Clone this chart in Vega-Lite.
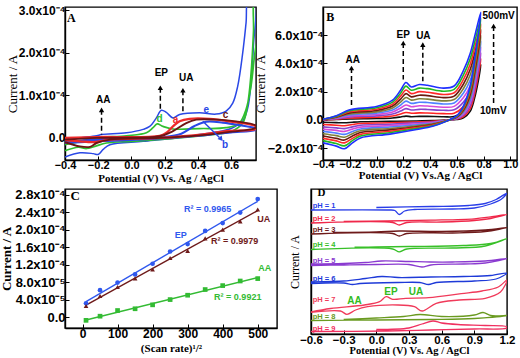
{
"$schema": "https://vega.github.io/schema/vega-lite/v6.json",
"padding": {"left": 0, "top": 3, "right": 0, "bottom": 0},
"background": "white",
"datasets": {
"A": [
{"s":"e","x":-0.4,"y":-0.05},{"s":"e","x":-0.31,"y":0.0},{"s":"e","x":-0.21,"y":0.05},{"s":"e","x":-0.18,"y":0.08},{"s":"e","x":-0.03,"y":0.12},{"s":"e","x":0.07,"y":0.2},{"s":"e","x":0.11,"y":0.27},{"s":"e","x":0.15,"y":0.47},{"s":"e","x":0.18,"y":0.65},{"s":"e","x":0.21,"y":0.6},{"s":"e","x":0.25,"y":0.47},{"s":"e","x":0.29,"y":0.55},{"s":"e","x":0.41,"y":0.59},{"s":"e","x":0.51,"y":0.56},{"s":"e","x":0.57,"y":0.63},{"s":"e","x":0.61,"y":0.82},{"s":"e","x":0.64,"y":1.22},{"s":"e","x":0.67,"y":2.0},{"s":"e","x":0.69,"y":2.7},{"s":"e","x":0.705,"y":3.3},{"s":"e","x":0.745,"y":3.3},{"s":"e","x":0.735,"y":2.2},{"s":"e","x":0.72,"y":1.3},{"s":"e","x":0.7,"y":0.7},{"s":"e","x":0.67,"y":0.4},{"s":"e","x":0.6,"y":0.22},{"s":"e","x":0.5,"y":0.13},{"s":"e","x":0.41,"y":0.08},{"s":"e","x":0.27,"y":0.0},{"s":"e","x":0.07,"y":-0.08},{"s":"e","x":-0.13,"y":-0.16},{"s":"e","x":-0.17,"y":-0.27},{"s":"e","x":-0.2,"y":-0.39},{"s":"e","x":-0.23,"y":-0.37},{"s":"e","x":-0.31,"y":-0.35},{"s":"e","x":-0.4,"y":-0.45},
{"s":"d","x":-0.4,"y":-0.16},{"s":"d","x":-0.31,"y":-0.08},{"s":"d","x":-0.21,"y":0.0},{"s":"d","x":-0.03,"y":0.05},{"s":"d","x":0.09,"y":0.12},{"s":"d","x":0.13,"y":0.24},{"s":"d","x":0.155,"y":0.33},{"s":"d","x":0.19,"y":0.27},{"s":"d","x":0.25,"y":0.21},{"s":"d","x":0.41,"y":0.22},{"s":"d","x":0.57,"y":0.24},{"s":"d","x":0.65,"y":0.35},{"s":"d","x":0.69,"y":0.67},{"s":"d","x":0.72,"y":1.22},{"s":"d","x":0.75,"y":2.16},{"s":"d","x":0.77,"y":2.4},{"s":"d","x":0.77,"y":3.3},{"s":"d","x":0.743,"y":3.3},{"s":"d","x":0.735,"y":2.5},{"s":"d","x":0.72,"y":1.5},{"s":"d","x":0.7,"y":0.8},{"s":"d","x":0.67,"y":0.35},{"s":"d","x":0.6,"y":0.15},{"s":"d","x":0.5,"y":0.08},{"s":"d","x":0.4,"y":0.04},{"s":"d","x":0.2,"y":-0.03},{"s":"d","x":0.0,"y":-0.08},{"s":"d","x":-0.15,"y":-0.12},{"s":"d","x":-0.22,"y":-0.2},{"s":"d","x":-0.27,"y":-0.25},{"s":"d","x":-0.32,"y":-0.22},{"s":"d","x":-0.4,"y":-0.3},
{"s":"b","x":-0.4,"y":-0.1},{"s":"b","x":-0.2,"y":-0.03},{"s":"b","x":0.0,"y":-0.02},{"s":"b","x":0.2,"y":0.02},{"s":"b","x":0.3,"y":0.1},{"s":"b","x":0.38,"y":0.28},{"s":"b","x":0.45,"y":0.38},{"s":"b","x":0.55,"y":0.36},{"s":"b","x":0.65,"y":0.3},{"s":"b","x":0.75,"y":0.22},{"s":"b","x":0.75,"y":0.19},{"s":"b","x":0.6,"y":0.13},{"s":"b","x":0.5,"y":0.09},{"s":"b","x":0.4,"y":0.05},{"s":"b","x":0.2,"y":-0.01},{"s":"b","x":0.0,"y":-0.05},{"s":"b","x":-0.2,"y":-0.08},{"s":"b","x":-0.4,"y":-0.12},
{"s":"a","x":-0.4,"y":0.0},{"s":"a","x":-0.21,"y":0.02},{"s":"a","x":0.17,"y":0.05},{"s":"a","x":0.21,"y":0.12},{"s":"a","x":0.25,"y":0.27},{"s":"a","x":0.29,"y":0.39},{"s":"a","x":0.35,"y":0.45},{"s":"a","x":0.47,"y":0.45},{"s":"a","x":0.59,"y":0.39},{"s":"a","x":0.75,"y":0.27},{"s":"a","x":0.75,"y":0.21},{"s":"a","x":0.57,"y":0.16},{"s":"a","x":0.43,"y":0.08},{"s":"a","x":0.17,"y":0.0},{"s":"a","x":-0.13,"y":-0.04},{"s":"a","x":-0.23,"y":-0.1},{"s":"a","x":-0.31,"y":-0.08},{"s":"a","x":-0.4,"y":-0.05},
{"s":"c","x":-0.4,"y":-0.04},{"s":"c","x":-0.21,"y":0.0},{"s":"c","x":0.17,"y":0.04},{"s":"c","x":0.25,"y":0.16},{"s":"c","x":0.33,"y":0.35},{"s":"c","x":0.39,"y":0.43},{"s":"c","x":0.51,"y":0.43},{"s":"c","x":0.63,"y":0.39},{"s":"c","x":0.75,"y":0.29},{"s":"c","x":0.75,"y":0.24},{"s":"c","x":0.57,"y":0.13},{"s":"c","x":0.41,"y":0.06},{"s":"c","x":0.17,"y":0.0},{"s":"c","x":-0.13,"y":-0.04},{"s":"c","x":-0.21,"y":-0.12},{"s":"c","x":-0.25,"y":-0.21},{"s":"c","x":-0.31,"y":-0.2},{"s":"c","x":-0.4,"y":-0.1}
],
"A_txt": [{"x":-0.17,"y":0.9,"t":"AA"},{"x":0.18,"y":1.53,"t":"EP"},{"x":0.33,"y":1.41,"t":"UA"}],
"A_let": [{"s":"e","x":0.45,"y":0.65,"t":"e"},{"s":"c","x":0.566,"y":0.53,"t":"c"},{"s":"d","x":0.17,"y":0.45,"t":"d"},{"s":"a","x":0.266,"y":0.42,"t":"a"},{"s":"b","x":0.564,"y":-0.16,"t":"b"}],
"A_pan": [{"x":-0.388,"y":2.82,"t":"A"}],
"A_arr": [{"x":-0.18,"y":0.66,"y2":0.08},{"x":0.174,"y":1.18,"y2":0.68},{"x":0.31,"y":1.12,"y2":0.59}],
"A_b": [{"x":0.43,"y":0.39,"x2":0.53,"y2":0.01}],
"A_bh": [{"x":0.54,"y":-0.03}],
"B": [
{"s":"k1","x":-0.4,"y":0.01},{"s":"k1","x":-0.3,"y":0.03},{"s":"k1","x":-0.2,"y":0.07},{"s":"k1","x":0.0,"y":0.1},{"s":"k1","x":0.12,"y":0.14},{"s":"k1","x":0.18,"y":0.21},{"s":"k1","x":0.22,"y":0.27},{"s":"k1","x":0.26,"y":0.23},{"s":"k1","x":0.32,"y":0.25},{"s":"k1","x":0.38,"y":0.25},{"s":"k1","x":0.5,"y":0.23},{"s":"k1","x":0.58,"y":0.24},{"s":"k1","x":0.65,"y":0.62},{"s":"k1","x":0.7,"y":1.28},{"s":"k1","x":0.74,"y":2.42},{"s":"k1","x":0.78,"y":3.91},{"s":"k1","x":0.74,"y":1.82},{"s":"k1","x":0.7,"y":0.6},{"s":"k1","x":0.65,"y":0.15},{"s":"k1","x":0.6,"y":0.03},{"s":"k1","x":0.52,"y":-0.01},{"s":"k1","x":0.42,"y":-0.05},{"s":"k1","x":0.3,"y":-0.07},{"s":"k1","x":0.1,"y":-0.1},{"s":"k1","x":-0.12,"y":-0.13},{"s":"k1","x":-0.18,"y":-0.16},{"s":"k1","x":-0.24,"y":-0.2},{"s":"k1","x":-0.3,"y":-0.19},{"s":"k1","x":-0.4,"y":-0.16},
{"s":"k2","x":-0.4,"y":0.01},{"s":"k2","x":-0.3,"y":0.06},{"s":"k2","x":-0.2,"y":0.14},{"s":"k2","x":0.0,"y":0.19},{"s":"k2","x":0.12,"y":0.28},{"s":"k2","x":0.18,"y":0.42},{"s":"k2","x":0.22,"y":0.53},{"s":"k2","x":0.26,"y":0.47},{"s":"k2","x":0.32,"y":0.5},{"s":"k2","x":0.38,"y":0.49},{"s":"k2","x":0.5,"y":0.45},{"s":"k2","x":0.58,"y":0.48},{"s":"k2","x":0.65,"y":0.94},{"s":"k2","x":0.7,"y":1.66},{"s":"k2","x":0.74,"y":2.83},{"s":"k2","x":0.78,"y":4.32},{"s":"k2","x":0.74,"y":2.14},{"s":"k2","x":0.7,"y":0.8},{"s":"k2","x":0.65,"y":0.24},{"s":"k2","x":0.6,"y":0.06},{"s":"k2","x":0.52,"y":-0.02},{"s":"k2","x":0.42,"y":-0.09},{"s":"k2","x":0.3,"y":-0.14},{"s":"k2","x":0.1,"y":-0.2},{"s":"k2","x":-0.12,"y":-0.25},{"s":"k2","x":-0.18,"y":-0.32},{"s":"k2","x":-0.24,"y":-0.41},{"s":"k2","x":-0.3,"y":-0.37},{"s":"k2","x":-0.4,"y":-0.32},
{"s":"k3","x":-0.4,"y":0.02},{"s":"k3","x":-0.3,"y":0.09},{"s":"k3","x":-0.2,"y":0.22},{"s":"k3","x":0.0,"y":0.29},{"s":"k3","x":0.12,"y":0.42},{"s":"k3","x":0.18,"y":0.63},{"s":"k3","x":0.22,"y":0.8},{"s":"k3","x":0.26,"y":0.7},{"s":"k3","x":0.32,"y":0.75},{"s":"k3","x":0.38,"y":0.74},{"s":"k3","x":0.5,"y":0.68},{"s":"k3","x":0.58,"y":0.72},{"s":"k3","x":0.65,"y":1.26},{"s":"k3","x":0.7,"y":2.04},{"s":"k3","x":0.74,"y":3.25},{"s":"k3","x":0.78,"y":4.73},{"s":"k3","x":0.74,"y":2.46},{"s":"k3","x":0.7,"y":1.0},{"s":"k3","x":0.65,"y":0.34},{"s":"k3","x":0.6,"y":0.09},{"s":"k3","x":0.52,"y":-0.03},{"s":"k3","x":0.42,"y":-0.14},{"s":"k3","x":0.3,"y":-0.2},{"s":"k3","x":0.1,"y":-0.3},{"s":"k3","x":-0.12,"y":-0.38},{"s":"k3","x":-0.18,"y":-0.49},{"s":"k3","x":-0.24,"y":-0.61},{"s":"k3","x":-0.3,"y":-0.56},{"s":"k3","x":-0.4,"y":-0.49},
{"s":"k4","x":-0.4,"y":0.02},{"s":"k4","x":-0.3,"y":0.12},{"s":"k4","x":-0.2,"y":0.29},{"s":"k4","x":0.0,"y":0.38},{"s":"k4","x":0.12,"y":0.56},{"s":"k4","x":0.18,"y":0.84},{"s":"k4","x":0.22,"y":1.06},{"s":"k4","x":0.26,"y":0.93},{"s":"k4","x":0.32,"y":1.0},{"s":"k4","x":0.38,"y":0.98},{"s":"k4","x":0.5,"y":0.9},{"s":"k4","x":0.58,"y":0.96},{"s":"k4","x":0.65,"y":1.58},{"s":"k4","x":0.7,"y":2.42},{"s":"k4","x":0.74,"y":3.66},{"s":"k4","x":0.78,"y":5.14},{"s":"k4","x":0.74,"y":2.78},{"s":"k4","x":0.7,"y":1.2},{"s":"k4","x":0.65,"y":0.43},{"s":"k4","x":0.6,"y":0.12},{"s":"k4","x":0.52,"y":-0.04},{"s":"k4","x":0.42,"y":-0.18},{"s":"k4","x":0.3,"y":-0.27},{"s":"k4","x":0.1,"y":-0.4},{"s":"k4","x":-0.12,"y":-0.51},{"s":"k4","x":-0.18,"y":-0.65},{"s":"k4","x":-0.24,"y":-0.81},{"s":"k4","x":-0.3,"y":-0.74},{"s":"k4","x":-0.4,"y":-0.65},
{"s":"k5","x":-0.4,"y":0.03},{"s":"k5","x":-0.3,"y":0.15},{"s":"k5","x":-0.2,"y":0.36},{"s":"k5","x":0.0,"y":0.48},{"s":"k5","x":0.12,"y":0.7},{"s":"k5","x":0.18,"y":1.05},{"s":"k5","x":0.22,"y":1.33},{"s":"k5","x":0.26,"y":1.17},{"s":"k5","x":0.32,"y":1.25},{"s":"k5","x":0.38,"y":1.23},{"s":"k5","x":0.5,"y":1.13},{"s":"k5","x":0.58,"y":1.2},{"s":"k5","x":0.65,"y":1.9},{"s":"k5","x":0.7,"y":2.8},{"s":"k5","x":0.74,"y":4.08},{"s":"k5","x":0.78,"y":5.55},{"s":"k5","x":0.74,"y":3.1},{"s":"k5","x":0.7,"y":1.4},{"s":"k5","x":0.65,"y":0.53},{"s":"k5","x":0.6,"y":0.15},{"s":"k5","x":0.52,"y":-0.05},{"s":"k5","x":0.42,"y":-0.23},{"s":"k5","x":0.3,"y":-0.34},{"s":"k5","x":0.1,"y":-0.5},{"s":"k5","x":-0.12,"y":-0.64},{"s":"k5","x":-0.18,"y":-0.81},{"s":"k5","x":-0.24,"y":-1.02},{"s":"k5","x":-0.3,"y":-0.93},{"s":"k5","x":-0.4,"y":-0.81},
{"s":"k6","x":-0.4,"y":0.03},{"s":"k6","x":-0.3,"y":0.18},{"s":"k6","x":-0.2,"y":0.43},{"s":"k6","x":0.0,"y":0.57},{"s":"k6","x":0.12,"y":0.84},{"s":"k6","x":0.18,"y":1.26},{"s":"k6","x":0.22,"y":1.59},{"s":"k6","x":0.26,"y":1.4},{"s":"k6","x":0.32,"y":1.5},{"s":"k6","x":0.38,"y":1.47},{"s":"k6","x":0.5,"y":1.35},{"s":"k6","x":0.58,"y":1.44},{"s":"k6","x":0.65,"y":2.22},{"s":"k6","x":0.7,"y":3.18},{"s":"k6","x":0.74,"y":4.49},{"s":"k6","x":0.78,"y":5.96},{"s":"k6","x":0.74,"y":3.42},{"s":"k6","x":0.7,"y":1.6},{"s":"k6","x":0.65,"y":0.62},{"s":"k6","x":0.6,"y":0.18},{"s":"k6","x":0.52,"y":-0.06},{"s":"k6","x":0.42,"y":-0.27},{"s":"k6","x":0.3,"y":-0.41},{"s":"k6","x":0.1,"y":-0.6},{"s":"k6","x":-0.12,"y":-0.76},{"s":"k6","x":-0.18,"y":-0.97},{"s":"k6","x":-0.24,"y":-1.22},{"s":"k6","x":-0.3,"y":-1.11},{"s":"k6","x":-0.4,"y":-0.97},
{"s":"k7","x":-0.4,"y":0.04},{"s":"k7","x":-0.3,"y":0.21},{"s":"k7","x":-0.2,"y":0.5},{"s":"k7","x":0.0,"y":0.67},{"s":"k7","x":0.12,"y":0.98},{"s":"k7","x":0.18,"y":1.47},{"s":"k7","x":0.22,"y":1.86},{"s":"k7","x":0.26,"y":1.63},{"s":"k7","x":0.32,"y":1.75},{"s":"k7","x":0.38,"y":1.72},{"s":"k7","x":0.5,"y":1.58},{"s":"k7","x":0.58,"y":1.68},{"s":"k7","x":0.65,"y":2.54},{"s":"k7","x":0.7,"y":3.56},{"s":"k7","x":0.74,"y":4.91},{"s":"k7","x":0.78,"y":6.37},{"s":"k7","x":0.74,"y":3.74},{"s":"k7","x":0.7,"y":1.8},{"s":"k7","x":0.65,"y":0.72},{"s":"k7","x":0.6,"y":0.21},{"s":"k7","x":0.52,"y":-0.07},{"s":"k7","x":0.42,"y":-0.32},{"s":"k7","x":0.3,"y":-0.48},{"s":"k7","x":0.1,"y":-0.7},{"s":"k7","x":-0.12,"y":-0.89},{"s":"k7","x":-0.18,"y":-1.13},{"s":"k7","x":-0.24,"y":-1.42},{"s":"k7","x":-0.3,"y":-1.3},{"s":"k7","x":-0.4,"y":-1.13},
{"s":"k8","x":-0.4,"y":0.04},{"s":"k8","x":-0.3,"y":0.24},{"s":"k8","x":-0.2,"y":0.58},{"s":"k8","x":0.0,"y":0.76},{"s":"k8","x":0.12,"y":1.12},{"s":"k8","x":0.18,"y":1.68},{"s":"k8","x":0.22,"y":2.12},{"s":"k8","x":0.26,"y":1.86},{"s":"k8","x":0.32,"y":2.0},{"s":"k8","x":0.38,"y":1.96},{"s":"k8","x":0.5,"y":1.8},{"s":"k8","x":0.58,"y":1.92},{"s":"k8","x":0.65,"y":2.86},{"s":"k8","x":0.7,"y":3.94},{"s":"k8","x":0.74,"y":5.32},{"s":"k8","x":0.78,"y":6.78},{"s":"k8","x":0.74,"y":4.06},{"s":"k8","x":0.7,"y":2.0},{"s":"k8","x":0.65,"y":0.81},{"s":"k8","x":0.6,"y":0.24},{"s":"k8","x":0.52,"y":-0.08},{"s":"k8","x":0.42,"y":-0.36},{"s":"k8","x":0.3,"y":-0.54},{"s":"k8","x":0.1,"y":-0.8},{"s":"k8","x":-0.12,"y":-1.02},{"s":"k8","x":-0.18,"y":-1.3},{"s":"k8","x":-0.24,"y":-1.62},{"s":"k8","x":-0.3,"y":-1.48},{"s":"k8","x":-0.4,"y":-1.3},
{"s":"k9","x":-0.4,"y":0.05},{"s":"k9","x":-0.3,"y":0.27},{"s":"k9","x":-0.2,"y":0.65},{"s":"k9","x":0.0,"y":0.86},{"s":"k9","x":0.12,"y":1.26},{"s":"k9","x":0.18,"y":1.89},{"s":"k9","x":0.22,"y":2.39},{"s":"k9","x":0.26,"y":2.1},{"s":"k9","x":0.32,"y":2.25},{"s":"k9","x":0.38,"y":2.21},{"s":"k9","x":0.5,"y":2.03},{"s":"k9","x":0.58,"y":2.16},{"s":"k9","x":0.65,"y":3.18},{"s":"k9","x":0.7,"y":4.32},{"s":"k9","x":0.74,"y":5.74},{"s":"k9","x":0.78,"y":7.19},{"s":"k9","x":0.74,"y":4.38},{"s":"k9","x":0.7,"y":2.2},{"s":"k9","x":0.65,"y":0.91},{"s":"k9","x":0.6,"y":0.27},{"s":"k9","x":0.52,"y":-0.09},{"s":"k9","x":0.42,"y":-0.41},{"s":"k9","x":0.3,"y":-0.61},{"s":"k9","x":0.1,"y":-0.9},{"s":"k9","x":-0.12,"y":-1.14},{"s":"k9","x":-0.18,"y":-1.46},{"s":"k9","x":-0.24,"y":-1.83},{"s":"k9","x":-0.3,"y":-1.67},{"s":"k9","x":-0.4,"y":-1.46},
{"s":"k10","x":-0.4,"y":0.05},{"s":"k10","x":-0.3,"y":0.3},{"s":"k10","x":-0.2,"y":0.72},{"s":"k10","x":0.0,"y":0.95},{"s":"k10","x":0.12,"y":1.4},{"s":"k10","x":0.18,"y":2.1},{"s":"k10","x":0.22,"y":2.65},{"s":"k10","x":0.26,"y":2.33},{"s":"k10","x":0.32,"y":2.5},{"s":"k10","x":0.38,"y":2.45},{"s":"k10","x":0.5,"y":2.25},{"s":"k10","x":0.58,"y":2.4},{"s":"k10","x":0.65,"y":3.5},{"s":"k10","x":0.7,"y":4.7},{"s":"k10","x":0.74,"y":6.15},{"s":"k10","x":0.78,"y":7.6},{"s":"k10","x":0.74,"y":4.7},{"s":"k10","x":0.7,"y":2.4},{"s":"k10","x":0.65,"y":1.0},{"s":"k10","x":0.6,"y":0.3},{"s":"k10","x":0.52,"y":-0.1},{"s":"k10","x":0.42,"y":-0.45},{"s":"k10","x":0.3,"y":-0.68},{"s":"k10","x":0.1,"y":-1.0},{"s":"k10","x":-0.12,"y":-1.27},{"s":"k10","x":-0.18,"y":-1.62},{"s":"k10","x":-0.24,"y":-2.03},{"s":"k10","x":-0.3,"y":-1.85},{"s":"k10","x":-0.4,"y":-1.62}
],
"B_txt": [{"x":-0.177,"y":4.24,"t":"AA"},{"x":0.2,"y":6.03,"t":"EP"},{"x":0.35,"y":5.91,"t":"UA"},{"x":0.913,"y":7.33,"t":"500mV"},{"x":0.873,"y":0.64,"t":"10mV"}],
"B_pan": [{"x":-0.375,"y":7.3,"t":"B"}],
"B_arr": [{"x":-0.187,"y":3.67,"y2":0.99},{"x":0.2,"y":5.44,"y2":2.85},{"x":0.346,"y":5.32,"y2":2.73},{"x":0.875,"y":6.64,"y2":1.2}],
"C": [
{"s":"EP","x":10,"y":0.315},{"s":"EP","x":50,"y":0.615},{"s":"EP","x":100,"y":0.79},{"s":"EP","x":150,"y":0.975},{"s":"EP","x":200,"y":1.22},{"s":"EP","x":250,"y":1.5},{"s":"EP","x":300,"y":1.67},{"s":"EP","x":350,"y":1.97},{"s":"EP","x":400,"y":2.15},{"s":"EP","x":450,"y":2.39},{"s":"EP","x":500,"y":2.7},
{"s":"UA","x":10,"y":0.255},{"s":"UA","x":50,"y":0.48},{"s":"UA","x":100,"y":0.69},{"s":"UA","x":150,"y":0.885},{"s":"UA","x":200,"y":1.09},{"s":"UA","x":250,"y":1.35},{"s":"UA","x":300,"y":1.515},{"s":"UA","x":350,"y":1.8},{"s":"UA","x":400,"y":2.0},{"s":"UA","x":450,"y":2.19},{"s":"UA","x":500,"y":2.46},
{"s":"AA","x":10,"y":-0.075},{"s":"AA","x":50,"y":0.02},{"s":"AA","x":100,"y":0.15},{"s":"AA","x":150,"y":0.19},{"s":"AA","x":200,"y":0.28},{"s":"AA","x":250,"y":0.4},{"s":"AA","x":300,"y":0.5},{"s":"AA","x":350,"y":0.63},{"s":"AA","x":400,"y":0.72},{"s":"AA","x":450,"y":0.825},{"s":"AA","x":500,"y":0.88}
],
"C_txt": [{"s":"EP","x":357,"y":2.48,"t":"R² = 0.9965"},{"s":"EP","x":280,"y":1.875,"t":"EP"},{"s":"UA","x":517,"y":2.25,"t":"UA"},{"s":"UA","x":434,"y":1.74,"t":"R² = 0.9979"},{"s":"AA","x":520,"y":1.13,"t":"AA"},{"s":"AA","x":443,"y":0.46,"t":"R² = 0.9921"}],
"C_pan": [{"x":-34,"y":2.76,"t":"C"}],
"D": [
{"s":"pH1","x":-0.6,"y":12.4},{"s":"pH1","x":0.1,"y":12.4},{"s":"pH1","x":0.17,"y":12.35},{"s":"pH1","x":0.21,"y":11.95},{"s":"pH1","x":0.26,"y":12.3},{"s":"pH1","x":0.35,"y":12.45},{"s":"pH1","x":0.7,"y":12.5},{"s":"pH1","x":0.9,"y":12.6},{"s":"pH1","x":1.05,"y":13.0},{"s":"pH1","x":1.15,"y":13.5},{"s":"pH1","x":1.2,"y":14.1},{"s":"pH1","x":1.1,"y":13.45},{"s":"pH1","x":1.0,"y":13.05},{"s":"pH1","x":0.85,"y":12.85},{"s":"pH1","x":0.5,"y":12.75},{"s":"pH1","x":0.0,"y":12.65},
{"s":"pH2","x":-0.6,"y":11.1},{"s":"pH2","x":0.15,"y":11.15},{"s":"pH2","x":0.21,"y":10.9},{"s":"pH2","x":0.28,"y":11.15},{"s":"pH2","x":0.6,"y":11.2},{"s":"pH2","x":0.9,"y":11.35},{"s":"pH2","x":1.05,"y":11.55},{"s":"pH2","x":1.2,"y":11.95},{"s":"pH2","x":1.05,"y":11.72},{"s":"pH2","x":0.9,"y":11.52},{"s":"pH2","x":0.5,"y":11.38},{"s":"pH2","x":0.1,"y":11.3},{"s":"pH2","x":-0.3,"y":11.25},
{"s":"pH3","x":-0.6,"y":10.0},{"s":"pH3","x":0.15,"y":10.05},{"s":"pH3","x":0.21,"y":9.8},{"s":"pH3","x":0.28,"y":10.05},{"s":"pH3","x":0.7,"y":10.1},{"s":"pH3","x":1.0,"y":10.25},{"s":"pH3","x":1.2,"y":10.65},{"s":"pH3","x":1.0,"y":10.4},{"s":"pH3","x":0.6,"y":10.25},{"s":"pH3","x":0.21,"y":10.3},{"s":"pH3","x":0.0,"y":10.2},{"s":"pH3","x":-0.4,"y":10.15},
{"s":"pH4","x":-0.6,"y":8.45},{"s":"pH4","x":0.15,"y":8.5},{"s":"pH4","x":0.21,"y":8.22},{"s":"pH4","x":0.28,"y":8.5},{"s":"pH4","x":0.7,"y":8.6},{"s":"pH4","x":1.0,"y":8.8},{"s":"pH4","x":1.2,"y":9.55},{"s":"pH4","x":1.05,"y":9.05},{"s":"pH4","x":0.8,"y":8.85},{"s":"pH4","x":0.3,"y":8.75},{"s":"pH4","x":0.0,"y":8.7},{"s":"pH4","x":-0.2,"y":8.68},
{"s":"pH5","x":-0.6,"y":6.85},{"s":"pH5","x":-0.3,"y":6.9},{"s":"pH5","x":0.0,"y":6.95},{"s":"pH5","x":0.3,"y":6.95},{"s":"pH5","x":0.42,"y":6.7},{"s":"pH5","x":0.5,"y":6.9},{"s":"pH5","x":0.8,"y":7.0},{"s":"pH5","x":1.0,"y":7.1},{"s":"pH5","x":1.2,"y":7.55},{"s":"pH5","x":1.0,"y":7.3},{"s":"pH5","x":0.7,"y":7.2},{"s":"pH5","x":0.5,"y":7.2},{"s":"pH5","x":0.3,"y":7.25},{"s":"pH5","x":0.05,"y":7.3},{"s":"pH5","x":-0.1,"y":7.15},{"s":"pH5","x":-0.3,"y":7.05},{"s":"pH5","x":-0.6,"y":7.0},
{"s":"pH6","x":-0.6,"y":5.05},{"s":"pH6","x":-0.3,"y":5.1},{"s":"pH6","x":-0.22,"y":4.95},{"s":"pH6","x":-0.15,"y":5.05},{"s":"pH6","x":0.2,"y":5.15},{"s":"pH6","x":0.4,"y":5.15},{"s":"pH6","x":0.48,"y":4.95},{"s":"pH6","x":0.55,"y":5.15},{"s":"pH6","x":0.9,"y":5.3},{"s":"pH6","x":1.1,"y":5.5},{"s":"pH6","x":1.2,"y":6.1},{"s":"pH6","x":1.05,"y":5.85},{"s":"pH6","x":0.8,"y":5.75},{"s":"pH6","x":0.5,"y":5.7},{"s":"pH6","x":0.2,"y":5.65},{"s":"pH6","x":0.05,"y":5.75},{"s":"pH6","x":-0.1,"y":5.55},{"s":"pH6","x":-0.3,"y":5.3},{"s":"pH6","x":-0.6,"y":5.2},
{"s":"pH7","x":-0.6,"y":2.2},{"s":"pH7","x":-0.42,"y":2.55},{"s":"pH7","x":-0.11,"y":2.9},{"s":"pH7","x":0.03,"y":3.23},{"s":"pH7","x":0.09,"y":3.73},{"s":"pH7","x":0.15,"y":3.47},{"s":"pH7","x":0.27,"y":3.57},{"s":"pH7","x":0.48,"y":3.63},{"s":"pH7","x":0.78,"y":4.03},{"s":"pH7","x":0.97,"y":4.3},{"s":"pH7","x":1.12,"y":4.7},{"s":"pH7","x":1.2,"y":5.4},{"s":"pH7","x":1.14,"y":4.2},{"s":"pH7","x":1.0,"y":3.57},{"s":"pH7","x":0.76,"y":3.4},{"s":"pH7","x":0.55,"y":3.07},{"s":"pH7","x":0.42,"y":2.3},{"s":"pH7","x":0.35,"y":2.73},{"s":"pH7","x":0.2,"y":2.9},{"s":"pH7","x":-0.08,"y":2.73},{"s":"pH7","x":-0.19,"y":2.4},{"s":"pH7","x":-0.27,"y":1.97},{"s":"pH7","x":-0.33,"y":2.3},{"s":"pH7","x":-0.6,"y":2.17},
{"s":"pH8","x":-0.6,"y":1.35},{"s":"pH8","x":0.0,"y":1.4},{"s":"pH8","x":0.5,"y":1.45},{"s":"pH8","x":0.9,"y":1.55},{"s":"pH8","x":1.2,"y":1.85},{"s":"pH8","x":1.05,"y":1.85},{"s":"pH8","x":0.98,"y":2.15},{"s":"pH8","x":0.9,"y":1.9},{"s":"pH8","x":0.6,"y":1.75},{"s":"pH8","x":0.4,"y":1.95},{"s":"pH8","x":0.25,"y":1.75},{"s":"pH8","x":0.0,"y":1.6},{"s":"pH8","x":-0.3,"y":1.45},
{"s":"pH9","x":-0.6,"y":0.25},{"s":"pH9","x":0.1,"y":0.3},{"s":"pH9","x":0.5,"y":0.4},{"s":"pH9","x":0.9,"y":0.5},{"s":"pH9","x":1.2,"y":0.6},{"s":"pH9","x":1.2,"y":0.72},{"s":"pH9","x":1.0,"y":0.85},{"s":"pH9","x":0.75,"y":0.95},{"s":"pH9","x":0.6,"y":1.1},{"s":"pH9","x":0.52,"y":1.3},{"s":"pH9","x":0.42,"y":1.0},{"s":"pH9","x":0.3,"y":0.6},{"s":"pH9","x":0.0,"y":0.45}
],
"D_lab": [{"s":"pH1","x":-0.585,"y":12.83,"t":"pH = 1"},{"s":"pH2","x":-0.585,"y":11.5,"t":"pH = 2"},{"s":"pH3","x":-0.585,"y":10.4,"t":"pH = 3"},{"s":"pH4","x":-0.585,"y":8.9,"t":"pH = 4"},{"s":"pH5","x":-0.585,"y":7.3,"t":"pH = 5"},{"s":"pH6","x":-0.585,"y":5.47,"t":"pH = 6"},{"s":"pH7","x":-0.585,"y":3.4,"t":"pH = 7"},{"s":"pH8","x":-0.585,"y":1.73,"t":"pH = 8"},{"s":"pH9","x":-0.585,"y":0.5,"t":"pH = 9"}],
"D_txt": [{"x":-0.2,"y":3.3,"t":"AA"},{"x":0.135,"y":4.23,"t":"EP"},{"x":0.364,"y":4.23,"t":"UA"}],
"D_pan": [{"x":-0.54,"y":14.1,"t":"D"}]
},
"vconcat": [
{"hconcat": [
{"width": 191, "height": 153,
 "layer": [
  {"data": {"name": "A"}, "mark": {"type": "line", "clip": true, "interpolate": "catmull-rom"},
   "encoding": {
    "x": {"field": "x", "type": "quantitative", "scale": {"domain": [-0.4, 0.75], "nice": false, "zero": false}, "axis": {"title": "Potential (V) Vs. Ag / AgCl", "values": [-0.4, -0.2, 0, 0.2, 0.4, 0.6], "tickCount": 30, "format": ".1f", "labelPadding": 3, "titlePadding": 2, "labelOverlap": false, "labelFlush": false}},
    "y": {"field": "y", "type": "quantitative", "scale": {"domain": [-0.52, 3.08], "nice": false, "zero": false}, "axis": {"title": "Current / A", "values": [0, 1, 2, 3], "tickCount": 30, "labelExpr": "datum.value == 0 ? '0.0' : format(datum.value, '.1f') + 'x10⁻⁴'", "labelFontSize": 12, "titleFontWeight": "normal", "titleFontSize": 13, "titlePadding": -1, "labelOverlap": false, "labelFlush": false}},
    "color": {"field": "s", "type": "nominal", "scale": {"domain": ["a", "b", "c", "d", "e"], "range": ["#ee2a2a", "#2a48e6", "#6e1414", "#2fbf2f", "#2a48e6"]}, "legend": null},
    "strokeWidth": {"field": "s", "type": "nominal", "scale": {"domain": ["a", "b", "c", "d", "e"], "range": [2.3, 1.5, 2.3, 1.5, 1.6]}, "legend": null},
    "order": {"value": null}}},
  {"data": {"name": "A_arr"}, "mark": {"type": "rule", "strokeDash": [5, 3], "strokeWidth": 1.5, "color": "#000"},
   "encoding": {"x": {"field": "x", "type": "quantitative"}, "y": {"field": "y", "type": "quantitative"}, "y2": {"field": "y2"}}},
  {"data": {"name": "A_arr"}, "mark": {"type": "point", "shape": "triangle-up", "filled": true, "size": 28, "color": "#000", "opacity": 1},
   "encoding": {"x": {"field": "x", "type": "quantitative"}, "y": {"field": "y", "type": "quantitative"}}},
  {"data": {"name": "A_b"}, "mark": {"type": "rule", "strokeWidth": 1.5, "color": "#2a48e6"},
   "encoding": {"x": {"field": "x", "type": "quantitative"}, "y": {"field": "y", "type": "quantitative"}, "x2": {"field": "x2"}, "y2": {"field": "y2"}}},
  {"data": {"name": "A_bh"}, "mark": {"type": "point", "shape": "triangle-up", "filled": true, "size": 30, "angle": 140, "color": "#2a48e6", "opacity": 1},
   "encoding": {"x": {"field": "x", "type": "quantitative"}, "y": {"field": "y", "type": "quantitative"}}},
  {"data": {"name": "A_txt"}, "mark": {"type": "text", "fontSize": 10, "fontWeight": "bold", "font": "Liberation Sans", "color": "#000"},
   "encoding": {"x": {"field": "x", "type": "quantitative"}, "y": {"field": "y", "type": "quantitative"}, "text": {"field": "t"}}},
  {"data": {"name": "A_let"}, "mark": {"type": "text", "fontSize": 10, "fontWeight": "bold", "font": "Liberation Sans"},
   "encoding": {"x": {"field": "x", "type": "quantitative"}, "y": {"field": "y", "type": "quantitative"}, "text": {"field": "t"}, "color": {"field": "s", "type": "nominal", "legend": null}}},
  {"data": {"name": "A_pan"}, "mark": {"type": "text", "fontSize": 12, "fontWeight": "bold", "font": "Liberation Serif", "align": "left", "color": "#000"},
   "encoding": {"x": {"field": "x", "type": "quantitative"}, "y": {"field": "y", "type": "quantitative"}, "text": {"field": "t"}}}
 ]},
{"width": 194, "height": 153,
 "layer": [
  {"data": {"name": "B"}, "mark": {"type": "line", "strokeWidth": 1.6, "clip": true, "interpolate": "catmull-rom"},
   "encoding": {
    "x": {"field": "x", "type": "quantitative", "scale": {"domain": [-0.4, 1.05], "nice": false, "zero": false}, "axis": {"title": "Potential (V) Vs.Ag / AgCl", "values": [-0.4, -0.2, 0, 0.2, 0.4, 0.6, 0.8, 1.0], "tickCount": 30, "format": ".1f", "labelPadding": 2, "titlePadding": 0, "labelOverlap": false, "labelFlush": false}},
    "y": {"field": "y", "type": "quantitative", "scale": {"domain": [-2.83, 7.98], "nice": false, "zero": false}, "axis": {"title": "Current / A", "values": [-2, 0, 2, 4, 6], "tickCount": 30, "labelExpr": "datum.value == 0 ? '0.0' : format(datum.value, '.1f') + 'x10⁻⁴'", "labelFontSize": 12.5, "titleFontWeight": "normal", "titleFontSize": 13, "titlePadding": 0, "labelOverlap": false, "labelFlush": false}},
    "color": {"field": "s", "type": "nominal", "scale": {"domain": ["k1", "k2", "k3", "k4", "k5", "k6", "k7", "k8", "k9", "k10"], "range": ["#111111", "#ff2424", "#8844cc", "#d84ad8", "#5080ff", "#80803a", "#6b1a10", "#ff2a2a", "#22b822", "#1f2fff"]}, "legend": null},
    "order": {"value": null}}},
  {"data": {"name": "B_arr"}, "mark": {"type": "rule", "strokeDash": [5, 3], "strokeWidth": 1.5, "color": "#000"},
   "encoding": {"x": {"field": "x", "type": "quantitative"}, "y": {"field": "y", "type": "quantitative"}, "y2": {"field": "y2"}}},
  {"data": {"name": "B_arr"}, "mark": {"type": "point", "shape": "triangle-up", "filled": true, "size": 28, "color": "#000", "opacity": 1},
   "encoding": {"x": {"field": "x", "type": "quantitative"}, "y": {"field": "y", "type": "quantitative"}}},
  {"data": {"name": "B_txt"}, "mark": {"type": "text", "fontSize": 10, "fontWeight": "bold", "font": "Liberation Sans", "color": "#000"},
   "encoding": {"x": {"field": "x", "type": "quantitative"}, "y": {"field": "y", "type": "quantitative"}, "text": {"field": "t"}}},
  {"data": {"name": "B_pan"}, "mark": {"type": "text", "fontSize": 12, "fontWeight": "bold", "font": "Liberation Serif", "align": "left", "color": "#000"},
   "encoding": {"x": {"field": "x", "type": "quantitative"}, "y": {"field": "y", "type": "quantitative"}, "text": {"field": "t"}}}
 ]}
], "spacing": 67, "bounds": "flush", "resolve": {"scale": {"color": "independent", "x": "independent", "y": "independent"}}},
{"hconcat": [
{"width": 212, "height": 139,
 "layer": [
  {"data": {"name": "C"}, "transform": [{"regression": "y", "on": "x", "groupby": ["s"]}], "mark": {"type": "line", "strokeWidth": 1.4},
   "encoding": {
    "x": {"field": "x", "type": "quantitative", "scale": {"domain": [-50, 555], "nice": false, "zero": false}, "axis": {"title": "(Scan rate)¹/²", "values": [0, 100, 200, 300, 400, 500], "tickCount": 30, "labelFontSize": 12, "labelOverlap": false, "labelFlush": false}},
    "y": {"field": "y", "type": "quantitative", "scale": {"domain": [-0.25, 2.93], "nice": false, "zero": false}, "axis": {"title": "Current / A", "values": [0, 0.4, 0.8, 1.2, 1.6, 2.0, 2.4, 2.8], "tickCount": 30, "labelExpr": "datum.value == 0 ? '0.0' : (datum.value < 1 ? format(datum.value * 10, '.1f') + 'x10⁻⁵' : format(datum.value, '.1f') + 'x10⁻⁴')", "labelFontSize": 13, "titleFontSize": 13, "titlePadding": 1, "labelOverlap": false, "labelFlush": false}},
    "color": {"field": "s", "type": "nominal", "scale": {"domain": ["EP", "UA", "AA"], "range": ["#2f58ee", "#6e1a1a", "#33bb33"]}, "legend": null}}},
  {"data": {"name": "C"}, "mark": {"type": "point", "filled": true, "size": 22, "opacity": 1},
   "encoding": {"x": {"field": "x", "type": "quantitative"}, "y": {"field": "y", "type": "quantitative"},
    "color": {"field": "s", "type": "nominal", "legend": null},
    "shape": {"field": "s", "type": "nominal", "scale": {"domain": ["EP", "UA", "AA"], "range": ["circle", "triangle-up", "square"]}, "legend": null}}},
  {"data": {"name": "C_txt"}, "mark": {"type": "text", "fontSize": 9, "fontWeight": "bold", "font": "Liberation Sans"},
   "encoding": {"x": {"field": "x", "type": "quantitative"}, "y": {"field": "y", "type": "quantitative"}, "text": {"field": "t"}, "color": {"field": "s", "type": "nominal", "legend": null}}},
  {"data": {"name": "C_pan"}, "mark": {"type": "text", "fontSize": 13, "fontWeight": "bold", "font": "Liberation Serif", "align": "left", "color": "#000"},
   "encoding": {"x": {"field": "x", "type": "quantitative"}, "y": {"field": "y", "type": "quantitative"}, "text": {"field": "t"}}}
 ]},
{"width": 196, "height": 145,
 "layer": [
  {"data": {"name": "D"}, "mark": {"type": "line", "strokeWidth": 1.3, "clip": true, "interpolate": "catmull-rom"},
   "encoding": {
    "x": {"field": "x", "type": "quantitative", "scale": {"domain": [-0.6, 1.2], "nice": false, "zero": false}, "axis": {"title": "Potential (V) Vs. Ag / AgCl", "values": [-0.6, -0.3, 0, 0.3, 0.6, 0.9, 1.2], "tickCount": 30, "format": ".1f", "labelFontSize": 11.5, "titleFontSize": 10.5, "titlePadding": 0, "labelOverlap": false, "labelFlush": false}},
    "y": {"field": "y", "type": "quantitative", "scale": {"domain": [0, 14.5], "nice": false, "zero": false}, "axis": {"title": "Current / A", "labels": false, "ticks": false, "titleFontWeight": "normal", "titleFontSize": 12, "titlePadding": 10}},
    "color": {"field": "s", "type": "nominal", "scale": {"domain": ["pH1", "pH2", "pH3", "pH4", "pH5", "pH6", "pH7", "pH8", "pH9"], "range": ["#2a3ee8", "#f0284a", "#6e1a1a", "#38c028", "#8a3ad0", "#1e3ad8", "#f03a5a", "#6a9a20", "#f03060"]}, "legend": null},
    "order": {"value": null}}},
  {"data": {"name": "D_lab"}, "mark": {"type": "text", "fontSize": 7.5, "fontWeight": "bold", "font": "Liberation Sans", "align": "left"},
   "encoding": {"x": {"field": "x", "type": "quantitative"}, "y": {"field": "y", "type": "quantitative"}, "text": {"field": "t"}, "color": {"field": "s", "type": "nominal", "legend": null}}},
  {"data": {"name": "D_txt"}, "mark": {"type": "text", "fontSize": 10, "fontWeight": "bold", "font": "Liberation Sans", "color": "#33bb22"},
   "encoding": {"x": {"field": "x", "type": "quantitative"}, "y": {"field": "y", "type": "quantitative"}, "text": {"field": "t"}}},
  {"data": {"name": "D_pan"}, "mark": {"type": "text", "fontSize": 11, "fontWeight": "bold", "font": "Liberation Serif", "align": "left", "color": "#000"},
   "encoding": {"x": {"field": "x", "type": "quantitative"}, "y": {"field": "y", "type": "quantitative"}, "text": {"field": "t"}}}
 ]}
], "spacing": 34, "bounds": "flush", "resolve": {"scale": {"color": "independent", "shape": "independent", "x": "independent", "y": "independent"}}}
],
"spacing": 2,
"resolve": {"scale": {"color": "independent", "shape": "independent", "x": "independent", "y": "independent"}},
"config": {
 "view": {"stroke": "#000", "strokeWidth": 1.4},
 "axis": {"grid": false, "domainColor": "#000", "tickColor": "#000", "labelColor": "#000", "titleColor": "#000", "labelFont": "Liberation Sans", "labelFontWeight": "bold", "labelFontSize": 11, "titleFont": "Liberation Serif", "titleFontWeight": "bold", "titleFontSize": 11, "domainWidth": 1.4, "tickWidth": 1, "tickSize": -4, "labelPadding": 4, "titlePadding": 3, "labelOverlap": false, "labelFlush": false}
}
}
